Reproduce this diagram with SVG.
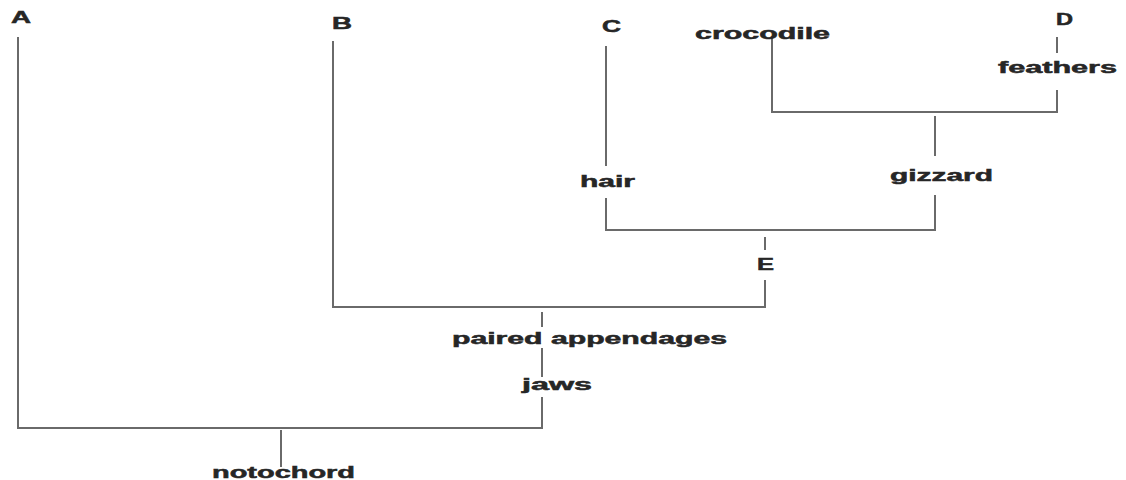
<svg xmlns="http://www.w3.org/2000/svg" width="1126" height="480" viewBox="0 0 1126 480">
<style>
.t{font-family:"Liberation Sans",Arial,sans-serif;font-weight:bold;font-size:16px;fill:#262626;stroke:#262626;stroke-width:0.5;text-anchor:start}
.c line{stroke:#6a6a6a;stroke-width:2;fill:none}
</style>
<rect width="1126" height="480" fill="#ffffff"/>
<g class="c" id="connectors">
<line x1="18" y1="37" x2="18" y2="428"/>
<line x1="17" y1="428" x2="543" y2="428"/>
<line x1="281" y1="430" x2="281" y2="467"/>
<line x1="542" y1="312" x2="542" y2="327"/>
<line x1="542" y1="348" x2="542" y2="377"/>
<line x1="542" y1="397" x2="542" y2="428"/>
<line x1="333" y1="41" x2="333" y2="307"/>
<line x1="332" y1="307" x2="766" y2="307"/>
<line x1="765" y1="237" x2="765" y2="250"/>
<line x1="765" y1="280" x2="765" y2="307"/>
<line x1="606" y1="46" x2="606" y2="166"/>
<line x1="606" y1="198" x2="606" y2="230"/>
<line x1="605" y1="230" x2="936" y2="230"/>
<line x1="935" y1="116" x2="935" y2="156"/>
<line x1="935" y1="195" x2="935" y2="229"/>
<line x1="772" y1="37" x2="772" y2="112"/>
<line x1="771" y1="112" x2="1058" y2="112"/>
<line x1="1057" y1="37" x2="1057" y2="53"/>
<line x1="1057" y1="90" x2="1057" y2="112"/>
</g>
<g id="A"><text class="t" x="11" y="23" textLength="20" lengthAdjust="spacingAndGlyphs">A</text></g>
<g id="B"><text class="t" x="332" y="29" textLength="20" lengthAdjust="spacingAndGlyphs">B</text></g>
<g id="C"><text class="t" x="602" y="32" textLength="19" lengthAdjust="spacingAndGlyphs">C</text></g>
<g id="D"><text class="t" x="1056" y="25" textLength="17" lengthAdjust="spacingAndGlyphs">D</text></g>
<g id="E"><text class="t" x="757" y="270" textLength="17" lengthAdjust="spacingAndGlyphs">E</text></g>
<g id="crocodile"><text class="t" x="695" y="39" textLength="135" lengthAdjust="spacingAndGlyphs">crocodile</text></g>
<g id="feathers"><text class="t" x="998" y="73" textLength="119" lengthAdjust="spacingAndGlyphs">feathers</text></g>
<g id="hair"><text class="t" x="580" y="187" textLength="55" lengthAdjust="spacingAndGlyphs">hair</text></g>
<g id="gizzard"><text class="t" x="890" y="181" textLength="103" lengthAdjust="spacingAndGlyphs">gizzard</text></g>
<g id="paired-appendages"><text class="t" x="452" y="344" textLength="275" lengthAdjust="spacingAndGlyphs">paired appendages</text></g>
<g id="jaws"><text class="t" x="522" y="390" textLength="70" lengthAdjust="spacingAndGlyphs">jaws</text></g>
<g id="notochord"><text class="t" x="212" y="478" textLength="143" lengthAdjust="spacingAndGlyphs">notochord</text></g>
</svg>
